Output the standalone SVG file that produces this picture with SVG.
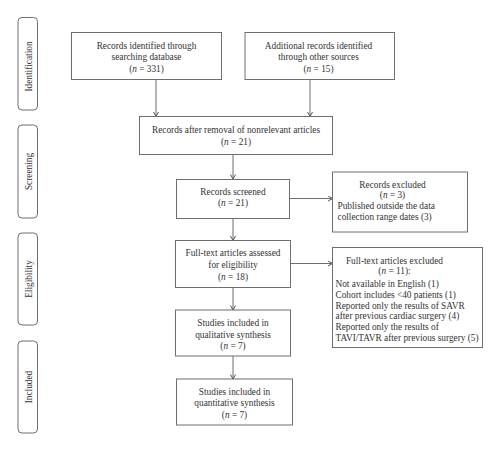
<svg xmlns="http://www.w3.org/2000/svg" width="500" height="451" viewBox="0 0 500 451">
<style>
.box{fill:#fff;stroke:#6e6e6e;stroke-width:1}
.phase{fill:#fff;stroke:#6e6e6e;stroke-width:1}
text{font-family:"Liberation Serif","Times New Roman",serif;font-size:9.3px;fill:#333}
.c{text-anchor:middle}
.l{text-anchor:start}
.conn line{stroke:#6e6e6e;stroke-width:1;fill:none}
</style>
<defs>
<marker id="ah" viewBox="0 0 6 6" refX="5.5" refY="3" markerWidth="6" markerHeight="6" markerUnits="userSpaceOnUse" orient="auto">
<path d="M1,0.5 L5.5,3 L1,5.5" fill="none" stroke="#555" stroke-width="1"/>
</marker>
</defs>
<rect width="500" height="451" fill="#fff"/>

<g id="phase-identification">
<rect class="phase" x="18" y="17.5" width="19.5" height="92.5" rx="4"/>
<text class="c" transform="translate(31.5,66.5) rotate(-90)">Identification</text>
</g>
<g id="phase-screening">
<rect class="phase" x="18" y="125" width="19.5" height="93" rx="4"/>
<text class="c" transform="translate(31.5,171.5) rotate(-90)">Screening</text>
</g>
<g id="phase-eligibility">
<rect class="phase" x="18" y="233" width="19.5" height="92" rx="4"/>
<text class="c" transform="translate(31.5,279) rotate(-90)">Eligibility</text>
</g>
<g id="phase-included">
<rect class="phase" x="18" y="341" width="19.5" height="92" rx="4"/>
<text class="c" transform="translate(31.5,387) rotate(-90)">Included</text>
</g>

<g class="conn" id="connectors">
<line x1="156" y1="79.5" x2="156" y2="116.5" marker-end="url(#ah)"/>
<line x1="310" y1="79.5" x2="310" y2="116.5" marker-end="url(#ah)"/>
<line x1="233" y1="154.5" x2="233" y2="179" marker-end="url(#ah)"/>
<line x1="289.5" y1="198.5" x2="332.5" y2="198.5" marker-end="url(#ah)"/>
<line x1="233" y1="218.5" x2="233" y2="240.5" marker-end="url(#ah)"/>
<line x1="290.5" y1="263.5" x2="332.5" y2="263.5" marker-end="url(#ah)"/>
<line x1="233" y1="287.5" x2="233" y2="310" marker-end="url(#ah)"/>
<line x1="233" y1="356" x2="233" y2="379" marker-end="url(#ah)"/>
</g>

<g id="n1">
<rect class="box" x="71.5" y="32.5" width="150" height="47"/>
<text class="c" x="146.5" y="48.5">Records identified through</text>
<text class="c" x="146.5" y="60">searching database</text>
<text class="c" x="146.5" y="72">(<tspan font-style="italic">n</tspan> = 331)</text>
</g>
<g id="n2">
<rect class="box" x="245" y="32.5" width="149.5" height="47"/>
<text class="c" x="318.5" y="48.5">Additional records identified</text>
<text class="c" x="318.5" y="60">through other sources</text>
<text class="c" x="318.5" y="72">(<tspan font-style="italic">n</tspan> = 15)</text>
</g>
<g id="n3">
<rect class="box" x="139.5" y="116.5" width="193" height="38"/>
<text class="c" x="236" y="133">Records after removal of nonrelevant articles</text>
<text class="c" x="236" y="144.5">(<tspan font-style="italic">n</tspan> = 21)</text>
</g>
<g id="n4">
<rect class="box" x="176.5" y="179.5" width="113" height="39"/>
<text class="c" x="233" y="194.5">Records screened</text>
<text class="c" x="233" y="206">(<tspan font-style="italic">n</tspan> = 21)</text>
</g>
<g id="n5">
<rect class="box" x="332.5" y="172" width="135" height="60"/>
<text class="c" x="392.5" y="187.5">Records excluded</text>
<text class="c" x="392.5" y="198">(<tspan font-style="italic">n</tspan> = 3)</text>
<text class="l" x="337.5" y="209">Published outside the data</text>
<text class="l" x="337.5" y="219.5">collection range dates (3)</text>
</g>
<g id="n6">
<rect class="box" x="175.5" y="240.5" width="115" height="47"/>
<text class="c" x="233" y="256">Full-text articles assessed</text>
<text class="c" x="233" y="268">for eligibility</text>
<text class="c" x="233" y="279.5">(<tspan font-style="italic">n</tspan> = 18)</text>
</g>
<g id="n7">
<rect class="box" x="332.5" y="247.5" width="150" height="100"/>
<text class="c" x="394.5" y="263.5">Full-text articles excluded</text>
<text class="c" x="394.5" y="273.5">(<tspan font-style="italic">n</tspan> = 11):</text>
<text class="l" x="335.5" y="287">Not available in English (1)</text>
<text class="l" x="335.5" y="297.5">Cohort includes &lt;40 patients (1)</text>
<text class="l" x="335.5" y="308.5">Reported only the results of SAVR</text>
<text class="l" x="335.5" y="319">after previous cardiac surgery (4)</text>
<text class="l" x="335.5" y="330">Reported only the results of</text>
<text class="l" x="335.5" y="341">TAVI/TAVR after previous surgery (5)</text>
</g>
<g id="n8">
<rect class="box" x="175.5" y="310" width="115" height="46"/>
<text class="c" x="233" y="326">Studies included in</text>
<text class="c" x="233" y="337.5">qualitative synthesis</text>
<text class="c" x="233" y="348.5">(<tspan font-style="italic">n</tspan> = 7)</text>
</g>
<g id="n9">
<rect class="box" x="176.5" y="379" width="116" height="46"/>
<text class="c" x="234.5" y="394.5">Studies included in</text>
<text class="c" x="234.5" y="406">quantitative synthesis</text>
<text class="c" x="234.5" y="417.5">(<tspan font-style="italic">n</tspan> = 7)</text>
</g>
</svg>
